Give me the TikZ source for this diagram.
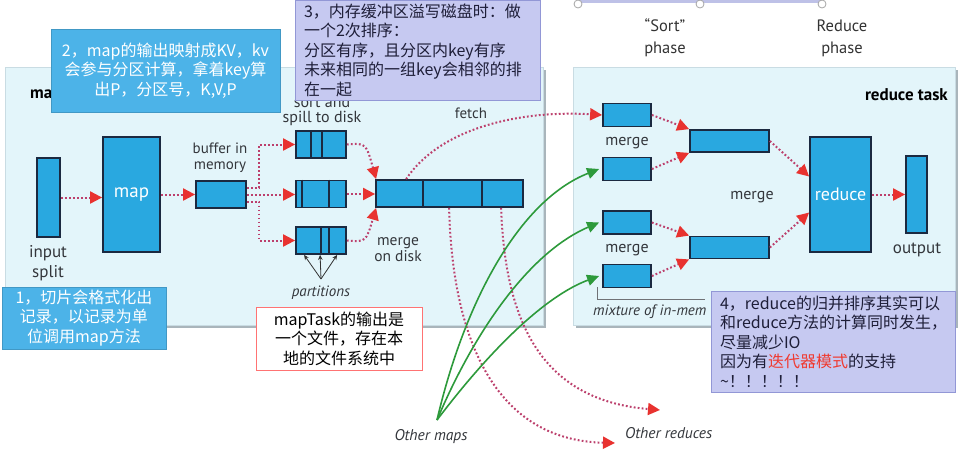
\documentclass[tikz,border=0pt]{standalone}
\usepackage{fontspec}
\setmainfont{PT Sans}
\newfontfamily\cjk{Noto Sans CJK SC}
\usetikzlibrary{arrows.meta,calc}
\definecolor{boxblue}{HTML}{29A8E0}
\definecolor{boxedge}{HTML}{1B2940}
\definecolor{taskbg}{HTML}{E3F5FA}
\definecolor{taskedge}{HTML}{C9DCE3}
\definecolor{shadowgray}{HTML}{A9B5BB}
\definecolor{dotred}{HTML}{BC3F6C}
\definecolor{tipred}{HTML}{E8322F}
\definecolor{arrgreen}{HTML}{2D9A3B}
\definecolor{callblue}{HTML}{4CB3E8}
\definecolor{lav}{HTML}{C6C9F1}
\definecolor{lavedge}{HTML}{9297D6}
\definecolor{lbl}{HTML}{33363B}
\definecolor{hilite}{HTML}{F03A30}
\definecolor{calltext}{HTML}{1E1E38}
\tikzset{
  blk/.style={draw=boxedge, fill=boxblue, line width=1.8pt, inner sep=0pt},
  lab/.style={font=\fontsize{15}{17}\selectfont, text=lbl, inner sep=0pt, align=center},
  dotarrow/.style={draw=dotred, line width=2pt, dash pattern=on 1.8pt off 2.2pt,
    -{Triangle[length=12pt,width=12pt,color=tipred]}},
  greenarrow/.style={draw=arrgreen, line width=1.6pt,
    -{Triangle[length=12pt,width=11pt,color=arrgreen]}},
  callb/.style={fill=callblue, draw=callblue!85!black, line width=0.4pt, text=white,
    font=\cjk\fontsize{16}{19.5}\selectfont, align=center, inner sep=0pt},
  calll/.style={fill=lav, draw=lavedge, line width=0.8pt, text=calltext,
    font=\cjk\fontsize{16}{19.5}\selectfont, align=left, inner xsep=9pt, inner ysep=0pt},
  callw/.style={fill=white, draw=red!55, line width=0.6pt, text=black,
    font=\cjk\fontsize{16}{19.5}\selectfont, align=center, inner sep=0pt},
  taskbox/.style={fill=taskbg, draw=taskedge, line width=0.6pt},
  divider/.style={draw=boxedge, line width=1.8pt},
}
\begin{document}
\begin{tikzpicture}[x=1pt,y=-1pt]
\useasboundingbox (0,0) rectangle (971,461);
\fill[white] (0,0) rectangle (971,461);

% top selection handle band
\draw[lavedge!60, line width=4pt] (578,1) -- (822,1);
\foreach \hx in {578,700,822} \draw[fill=white, draw=gray!70, line width=0.8pt] (\hx,4) circle (4);

% phase labels
\node[lab, font=\fontsize{16.5}{22}\selectfont, text=black!80] (sortph) at (665,38) {``Sort''\\phase};
\node[lab, font=\fontsize{16.5}{22}\selectfont, text=black!80] (redph) at (842,38) {Reduce\\phase};

% task backgrounds with shadow
\fill[shadowgray] (8,70) rectangle (546,328);
\draw[taskbox] (5,67) rectangle (543,325);
\fill[shadowgray] (576,70) rectangle (958,328);
\draw[taskbox] (573,67) rectangle (955,325);

\node[font=\bfseries\fontsize{17}{17}\selectfont, anchor=west, inner sep=0pt] (mtask) at (30,94) {ma};
\node[font=\bfseries\fontsize{17}{17}\selectfont, anchor=east, inner sep=0pt] (rtask) at (948,95) {reduce task};

% map side blocks
\node[blk, minimum width=23pt, minimum height=79pt] (inp) at (48.5,197.5) {};
\node[blk, minimum width=57pt, minimum height=115pt, text=white, font=\fontsize{19}{19}\selectfont] (map) at (131.5,194.5) {map};
\node[blk, minimum width=50pt, minimum height=27pt] (buf) at (221,194.5) {};
\node[blk, minimum width=50pt, minimum height=27pt] (p1) at (321,144.5) {};
\node[blk, minimum width=50pt, minimum height=27pt] (p2) at (321,194) {};
\node[blk, minimum width=50pt, minimum height=27pt] (p3) at (321,240.5) {};
\node[blk, minimum width=147pt, minimum height=27pt] (bar) at (449.5,193.5) {};

\draw[divider] ($(p1.north west)+(16,0)$) -- ($(p1.south west)+(16,0)$);
\draw[divider] ($(p1.north west)+(27,0)$) -- ($(p1.south west)+(27,0)$);
\draw[divider] ($(p2.north west)+(7,0)$) -- ($(p2.south west)+(7,0)$);
\draw[divider] ($(p2.north west)+(34,0)$) -- ($(p2.south west)+(34,0)$);
\draw[divider] ($(p3.north west)+(26,0)$) -- ($(p3.south west)+(26,0)$);
\draw[divider] ($(p3.north west)+(34,0)$) -- ($(p3.south west)+(34,0)$);
\draw[divider] ($(bar.north west)+(48,0)$) -- ($(bar.south west)+(48,0)$);
\draw[divider] ($(bar.north west)+(107,0)$) -- ($(bar.south west)+(107,0)$);

% map side labels
\node[lab, font=\fontsize{17}{20}\selectfont] (linp) at (48,263) {input\\split};
\node[lab, font=\fontsize{15}{16}\selectfont] (lbuf) at (220,158) {buffer in\\memory};
\node[lab, font=\fontsize{16}{15.5}\selectfont] (lsort) at (322,111) {sort and\\spill to disk};
\node[lab] (lfetch) at (471,113) {fetch};
\node[lab, font=\fontsize{15.5}{16}\selectfont] (lmd) at (398,250) {merge\\on disk};
\node[lab, font=\itshape\fontsize{15}{15}\selectfont] (lpart) at (321,293) {partitions};

% partition pointers
\coordinate (pp) at (321,279);
\foreach \px in {9,25,42}
  \draw[line width=0.8pt, black!80, -{Stealth[length=5pt,width=4.5pt]}] (pp) -- ($(p3.south west)+(\px,0)$);

% map side arrows
\draw[dotarrow] (inp.east) -- (inp.east -| map.west);
\draw[dotarrow] (map.east) -- (buf.west);
\draw[dotarrow] ([yshift=7pt]buf.east) -- ++(12,0) |- (p1.west);
\draw[dotarrow] (buf.east) -- (buf.east -| p2.west);
\draw[dotarrow] ([yshift=-7pt]buf.east) -- ++(12,0) |- (p3.west);
\draw[dotarrow] (p1.east) .. controls (366,143) .. ([xshift=1pt]bar.north west);
\draw[dotarrow] (p2.east) -- (p2.east -| bar.west);
\draw[dotarrow] (p3.east) .. controls (366,242) .. ([xshift=1pt]bar.south west);

% reduce side blocks
\node[blk, minimum width=48pt, minimum height=23pt] (mA) at (627,115) {};
\node[blk, minimum width=48pt, minimum height=23pt] (mB) at (627,169) {};
\node[blk, minimum width=48pt, minimum height=23pt] (mC) at (627,222.5) {};
\node[blk, minimum width=48pt, minimum height=23pt] (mD) at (627,276) {};
\node[blk, minimum width=79pt, minimum height=22pt] (mE) at (729.5,141) {};
\node[blk, minimum width=79pt, minimum height=22pt] (mF) at (729.5,247.5) {};
\node[blk, minimum width=61pt, minimum height=115pt, text=white, font=\fontsize{18}{18}\selectfont] (red) at (840.5,194.5) {reduce};
\node[blk, minimum width=21pt, minimum height=77pt] (out) at (916.5,194.5) {};

\node[lab, font=\fontsize{16}{16}\selectfont] (lm1) at (627,143) {merge};
\node[lab, font=\fontsize{16}{16}\selectfont] (lm2) at (627,250) {merge};
\node[lab, font=\fontsize{16}{16}\selectfont] (lm3) at (752,197) {merge};
\node[lab, font=\fontsize{17}{17}\selectfont] (lout) at (917,250) {output};

\draw[lbl!70, line width=0.8pt] (597,287) -- (597,299) -- (705,299);
\node[lab, font=\itshape\fontsize{15}{15}\selectfont, anchor=west] (lmix) at (593,312) {mixture of in-mem};

\draw[dotarrow] (mA.east) -- (mE.north west);
\draw[dotarrow] (mB.east) -- (mE.south west);
\draw[dotarrow] (mC.east) -- (mF.north west);
\draw[dotarrow] (mD.east) -- (mF.south west);
\draw[dotarrow] (mE.east) -- ([yshift=18pt]red.west);
\draw[dotarrow] (mF.east) -- ([yshift=-18pt]red.west);
\draw[dotarrow] (red.east) -- (out.west);

% fetch and other reduces
\draw[dotarrow] ([xshift=31pt]bar.north west) .. controls (440,128) and (520,110) .. (mA.west);
\coordinate (or1) at (615,443);
\coordinate (or2) at (660,410);
\draw[dotarrow] ([xshift=74pt]bar.south west) .. controls (452,330) and (490,440) .. (or1);
\draw[dotarrow] ([xshift=126pt]bar.south west) .. controls (505,320) and (540,400) .. (or2);
\node[lab, font=\itshape\fontsize{15.5}{15.5}\selectfont, anchor=west] (lor) at (625,433) {Other reduces};

% other maps
\coordinate (om) at (437,420);
\draw[greenarrow] (om) .. controls (465,300) and (520,200) .. ([xshift=-3pt]mB.west);
\draw[greenarrow] (om) .. controls (475,330) and (530,252) .. ([xshift=-3pt]mC.west);
\draw[greenarrow] (om) .. controls (490,350) and (545,296) .. ([xshift=-3pt]mD.west);
\node[lab, font=\itshape\fontsize{15.5}{15.5}\selectfont] (lom) at (431,437) {Other maps};

% callouts
\node[callb, minimum width=229pt, minimum height=83pt] (c2) at (165.5,70.5)
  {2，map的输出映射成KV，kv\\会参与分区计算，拿着key算\\出P，分区号，K,V,P};
\node[calll, text width=227pt, minimum height=100pt] (c3) at (417.5,50)
  {3，内存缓冲区溢写磁盘时：做\\一个2次排序：\\分区有序，且分区内key有序\\未来相同的一组key会相邻的排\\在一起};
\node[callb, minimum width=164pt, minimum height=62pt] (c1) at (84,318)
  {1，切片会格式化出\\记录，以记录为单\\位调用map方法};
\node[callw, minimum width=166pt, minimum height=63pt] (c5) at (339,338.5)
  {mapTask的输出是\\一个文件，存在本\\地的文件系统中};
\node[calll, text width=226pt, minimum height=101pt] (c4) at (833,341.5)
  {4，reduce的归并排序其实可以\\和reduce方法的计算同时发生，\\尽量减少IO\\因为有\textcolor{hilite}{迭代器模式}的支持\\\textasciitilde！！！！！};
\end{tikzpicture}
\end{document}
